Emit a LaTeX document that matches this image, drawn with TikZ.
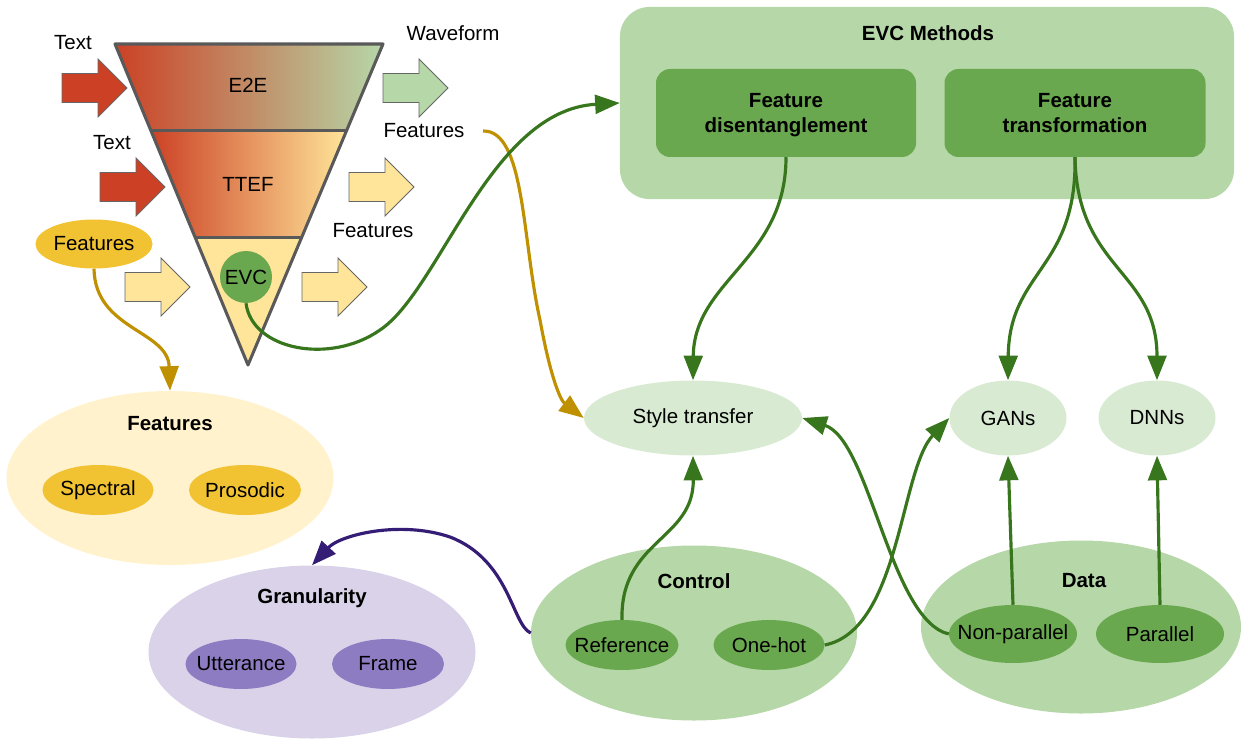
\documentclass[tikz,border=0pt]{standalone}
\usepackage{fontspec}
\setmainfont{Liberation Sans}
\usepackage{tikz}
\usetikzlibrary{calc}
\usetikzlibrary{positioning}
\usetikzlibrary{shapes.geometric,arrows.meta}

\definecolor{e2ered}{HTML}{CC4125}
\definecolor{wavegreen}{HTML}{B6D7A8}
\definecolor{featyellow}{HTML}{FFE599}
\definecolor{goldfill}{HTML}{F1C232}
\definecolor{paleyellow}{HTML}{FFF2CC}
\definecolor{midgreen}{HTML}{6AA84F}
\definecolor{palegreen}{HTML}{D9EAD3}
\definecolor{darkgreen}{HTML}{38761D}
\definecolor{goldline}{HTML}{BF9000}
\definecolor{lavender}{HTML}{D9D2E9}
\definecolor{violet}{HTML}{8E7CC3}
\definecolor{indigo}{HTML}{351C75}
\definecolor{funnelgray}{HTML}{595959}
\definecolor{arrowgray}{HTML}{666666}

% block arrow: tail point, fill colour
\newcommand{\blockarrow}[2]{\filldraw[arrowbody, fill=#2, shift={#1}] (0,-14.5) -- (36,-14.5) -- (36,-29) -- (65,0) -- (36,29) -- (36,14.5) -- (0,14.5) -- cycle;}

\begin{document}
\begin{tikzpicture}
            [x=0.03cm, y=-0.03cm,
            every node/.style={font=\fontsize{17.5}{22}\selectfont, inner sep=0pt},
            title/.style={font=\fontsize{17.5}{22}\selectfont\bfseries},
            border/.style={line width=2.6pt, draw=funnelgray, line join=round},
            arrowbody/.style={draw=arrowgray, line width=0.8pt},
            blob/.style={ellipse, inner xsep=-12pt, inner ysep=0pt},
            box/.style={rectangle, rounded corners=12pt, align=center, text depth=0pt},
            link/.style={line width=2.7pt, -{Triangle[length=21pt, width=16pt]}},
            ]
            \useasboundingbox (0,0) rectangle (1241,739);

            % funnel
            \coordinate (topL) at (115,44);
            \coordinate (topR) at (383,44);
            \coordinate (apex) at (248,365);
            \coordinate (midL) at ($(topL)!0.268!(apex)$);
            \coordinate (midR) at ($(topR)!0.268!(apex)$);
            \coordinate (lowL) at ($(topL)!0.604!(apex)$);
            \coordinate (lowR) at ($(topR)!0.604!(apex)$);
            \fill[left color=e2ered, right color=wavegreen] (topL) -- (topR) -- (midR) -- (midL) -- cycle;
            \fill[left color=e2ered, right color=featyellow] (midL) -- (midR) -- (lowR) -- (lowL) -- cycle;
            \fill[featyellow] (lowL) -- (lowR) -- (apex) -- cycle;
            \draw[border] (topL) -- (topR) -- (apex) -- cycle;
            \draw[border] (midL) -- (midR) (lowL) -- (lowR);
            \node (e2e) at (248,85) {E2E};
            \node (ttef) at (248,184) {TTEF};
            \node[circle, fill=midgreen, minimum size=1.56cm] (evc) at (246,277) {EVC};

            % inputs and outputs
            \blockarrow{(62,88)}{e2ered}
            \blockarrow{(100,187)}{e2ered}
            \blockarrow{(125,287)}{featyellow}
            \blockarrow{(383,88)}{wavegreen}
            \blockarrow{(349,187)}{featyellow}
            \blockarrow{(302,287)}{featyellow}
            \node (textA) at (73,43) {Text};
            \node (textB) at (112,143) {Text};
            \node (wave) at (453,33) {Waveform};
            \node (featA) at (424,131) {Features};
            \node (featB) at (373,231) {Features};
            \node[blob, fill=goldfill, minimum width=3.51cm, minimum height=1.47cm] (featin) at (94,244) {Features};

            % EVC methods
            \node[box, fill=wavegreen, rounded corners=25pt, minimum width=18.42cm, minimum height=5.76cm] (methods) at (927,103) {};
            \node[title] (methodsT) at (928,33) {EVC Methods};
            \node[box, title, fill=midgreen, minimum width=7.8cm, minimum height=2.64cm] (disent) at (786,113) {Feature\\disentanglement};
            \node[box, title, fill=midgreen, minimum width=7.83cm, minimum height=2.64cm] (transf) at (1075,113) {Feature\\transformation};

            % models
            \node[blob, fill=palegreen, minimum width=6.54cm, minimum height=2.25cm] (style) at (693,418) {Style transfer};
            \node[blob, fill=palegreen, minimum width=3.51cm, minimum height=2.25cm] (gans) at (1008,418) {GANs};
            \node[blob, fill=palegreen, minimum width=3.51cm, minimum height=2.25cm] (dnns) at (1157,418) {DNNs};

            % features
            \node[blob, fill=paleyellow, minimum width=9.81cm, minimum height=5.22cm] (features) at (170,478) {};
            \node[title] (featuresT) at (170,424) {Features};
            \node[blob, fill=goldfill, minimum width=3.33cm, minimum height=1.5cm] (spectral) at (98,490) {Spectral};
            \node[blob, fill=goldfill, minimum width=3.36cm, minimum height=1.5cm] (prosodic) at (245,490) {Prosodic};

            % granularity
            \node[blob, fill=lavender, minimum width=9.81cm, minimum height=5.19cm] (gran) at (312,652) {};
            \node[title] (granT) at (312,598) {Granularity};
            \node[blob, fill=violet, minimum width=3.33cm, minimum height=1.5cm] (utter) at (241,664) {Utterance};
            \node[blob, fill=violet, minimum width=3.36cm, minimum height=1.5cm] (frame) at (388,664) {Frame};

            % control
            \node[blob, fill=wavegreen, minimum width=9.78cm, minimum height=5.25cm] (control) at (694,633) {};
            \node[title] (controlT) at (694,581) {Control};
            \node[blob, fill=midgreen, minimum width=3.39cm, minimum height=1.5cm] (reference) at (622,645) {Reference};
            \node[blob, fill=midgreen, minimum width=3.33cm, minimum height=1.5cm] (onehot) at (769,645) {One-hot};

            % data
            \node[blob, fill=wavegreen, minimum width=9.6cm, minimum height=5.19cm] (data) at (1081,627) {};
            \node[title] (dataT) at (1084,581) {Data};
            \node[blob, fill=midgreen, minimum width=3.84cm, minimum height=1.74cm] (nonpar) at (1013,634) {Non-parallel};
            \node[blob, fill=midgreen, minimum width=3.84cm, minimum height=1.74cm] (parallel) at (1160,634) {Parallel};

            % links
            \draw[link, goldline] (featin.south) .. controls (95,330) and (168,330) .. (features.north);
            \draw[link, goldline] ([xshift=0.55cm]featA.east) .. controls (525,130) and (522,240) .. (540,320) .. controls (550,375) and (560,400) .. (style.west);
            \draw[link, darkgreen] (evc.south) .. controls (252,350) and (330,365) .. (380,330) .. controls (440,290) and (490,110) .. (methods.west);
            \draw[link, darkgreen] (disent.south) .. controls (786,260) and (694,280) .. (style.north);
            \draw[link, darkgreen] (transf.south) .. controls (1077,270) and (1009,270) .. (gans.north);
            \draw[link, darkgreen] (transf.south) .. controls (1077,270) and (1157,270) .. (dnns.north);
            \draw[link, darkgreen] (reference.north) .. controls (620,540) and (694,540) .. (style.south);
            \draw[link, darkgreen] (onehot.east) .. controls (900,630) and (900,470) .. (gans.west);
            \draw[link, darkgreen] (nonpar.west) .. controls (890,620) and (870,440) .. (style.east);
            \draw[link, darkgreen] (nonpar.north) -- (gans.south);
            \draw[link, darkgreen] (parallel.north) -- (dnns.south);
            \draw[link, indigo] (control.west) .. controls (512,625) and (510,560) .. (450,537) .. controls (400,520) and (340,535) .. (gran.north);
\end{tikzpicture}
\end{document}
